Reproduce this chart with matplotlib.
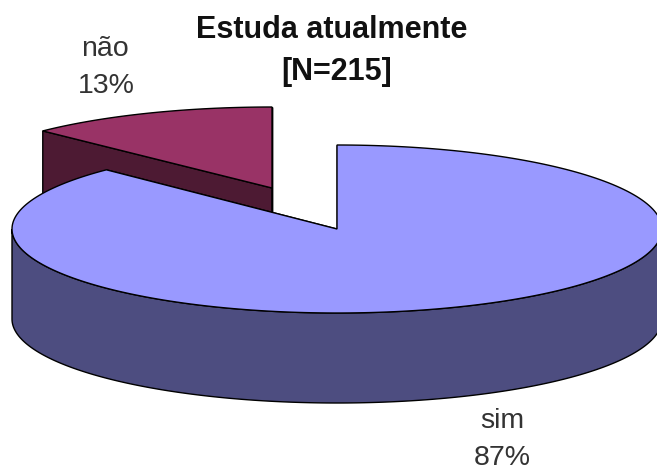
import numpy as np
import matplotlib
matplotlib.use("Agg")
import matplotlib.pyplot as plt
from matplotlib.patches import Polygon

plt.rcParams['font.family'] = ['Liberation Sans', 'DejaVu Sans']

categories = ['não', 'sim']
counts = [27, 188]
percent_labels = ['13%', '87%']
title_lines = ['Estuda atualmente', '[N=215]']
top_colors = ['#993366', '#9999FF']
side_colors = ['#4D1A33', '#4D4D80']
edge = '#000000'

W, H = 657, 470
fig = plt.figure(figsize=(W/100, H/100), dpi=100)
ax = fig.add_axes([0, 0, 1, 1])
ax.set_xlim(0, W)
ax.set_ylim(H, 0)
ax.axis('off')

fractions = np.array(counts) / sum(counts)
bounds = np.concatenate([[0], np.cumsum(fractions[::-1])]) * 2 * np.pi  # clockwise from top, sim first


def rim(cx, cy, rx, ry, a, b, n=240):
    t = np.linspace(a, b, n)
    return np.column_stack([cx + rx*np.sin(t), cy - ry*np.cos(t)])


def draw_slice(cx, cy, rx, ry, depth, a, b, top, side, z):
    # walls through the apex
    for ang in (a, b):
        p = rim(cx, cy, rx, ry, ang, ang, 1)[0]
        ax.add_patch(Polygon([(cx, cy), p, p + [0, depth], (cx, cy + depth)],
                             fc=side, ec=edge, lw=1.0, zorder=z))
    # outer rim on the near half
    lo, hi = max(a, np.pi/2), min(b, 3*np.pi/2)
    if hi > lo:
        r = rim(cx, cy, rx, ry, lo, hi)
        ax.add_patch(Polygon(np.vstack([r, (r + [0, depth])[::-1]]),
                             fc=side, ec=edge, lw=1.0, zorder=z + 1))
    r = rim(cx, cy, rx, ry, a, b)
    ax.add_patch(Polygon(np.vstack([[cx, cy], r]), fc=top, ec=edge, lw=1.0, zorder=z + 2))


# não is pulled away from the main body, sim is drawn in front of it
draw_slice(272, 188, 323, 81, 90, bounds[1], bounds[2], top_colors[0], side_colors[0], 1)
draw_slice(337, 229, 325, 84, 90, bounds[0], bounds[1], top_colors[1], side_colors[1], 5)

ink = '#333333'
ax.text(332, 30, title_lines[0], ha='center', va='center', fontsize=22, fontweight='bold', color='#111111')
ax.text(337, 72, title_lines[1], ha='center', va='center', fontsize=22, fontweight='bold', color='#111111')
ax.text(105, 49, categories[0], ha='center', va='center', fontsize=20.5, color=ink)
ax.text(106, 86, percent_labels[0], ha='center', va='center', fontsize=20.5, color=ink)
ax.text(502, 421, categories[1], ha='center', va='center', fontsize=20.5, color=ink)
ax.text(502, 458, percent_labels[1], ha='center', va='center', fontsize=20.5, color=ink)

fig.savefig('out.png', dpi=100, facecolor='white')
